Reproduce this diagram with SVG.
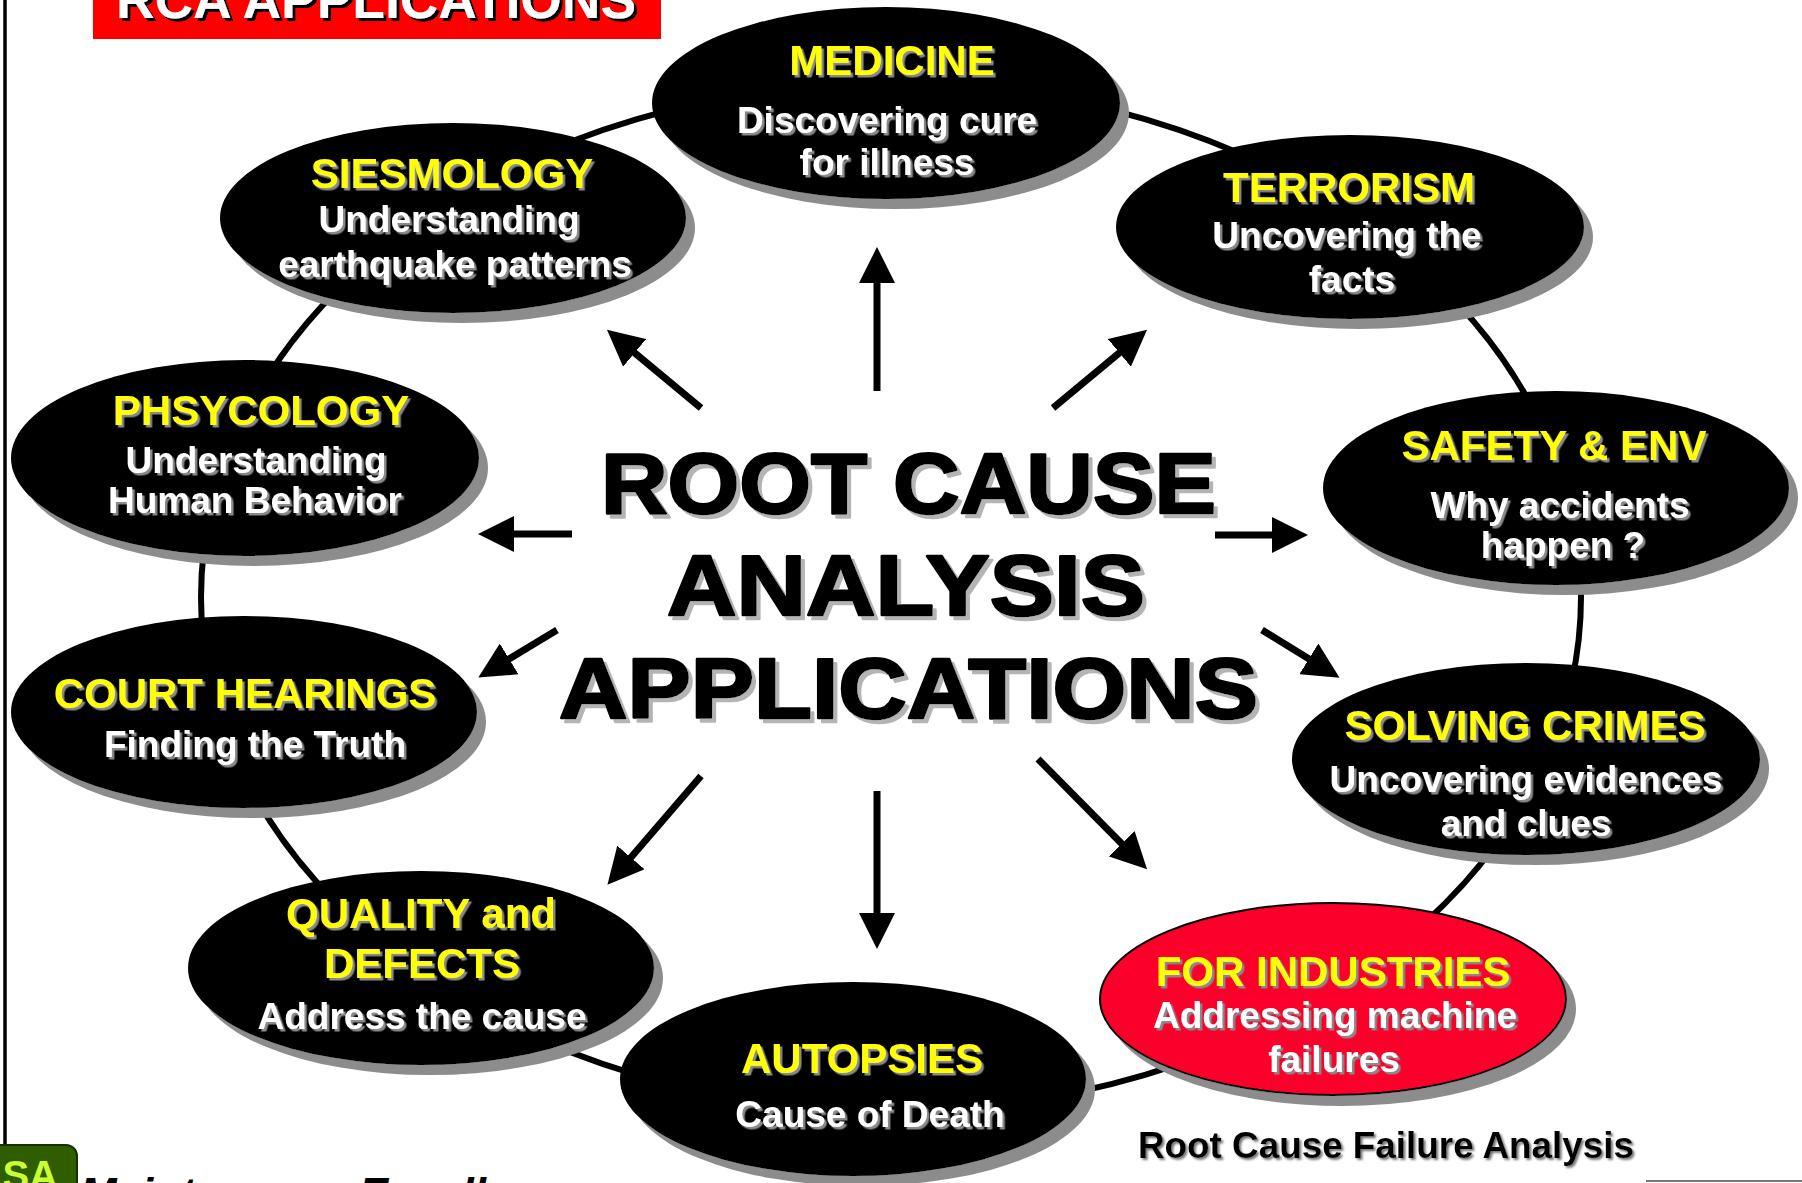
<svg xmlns="http://www.w3.org/2000/svg" width="1802" height="1183" viewBox="0 0 1802 1183">
<defs>
<style>
.t{font-family:"Liberation Sans",Arial,sans-serif;font-weight:bold;text-anchor:middle}
.h{font-size:42px;fill:#ffff00;filter:url(#ts)}
.s{font-size:37px;fill:#ffffff;filter:url(#ts)}
.el{fill:#000;filter:url(#es)}
.red{fill:#fa0029;stroke:#000;stroke-width:2;filter:url(#es)}
.ar{stroke:#000;stroke-width:7;fill:none;marker-end:url(#ah)}
.big{font-family:"Liberation Sans",Arial,sans-serif;font-weight:bold;font-size:86px;fill:#000;stroke:#000;stroke-width:2.5;stroke-linejoin:round;filter:url(#bs)}
</style>
<filter id="ts" x="-10%" y="-30%" width="120%" height="160%"><feDropShadow dx="2.5" dy="2.5" stdDeviation="0.4" flood-color="#8a8a8a" flood-opacity="1"/></filter>
<filter id="bs" x="-10%" y="-30%" width="120%" height="160%"><feDropShadow dx="4" dy="4" stdDeviation="0.6" flood-color="#b4b4b4" flood-opacity="1"/></filter>
<filter id="ws" x="-10%" y="-30%" width="120%" height="160%"><feDropShadow dx="3" dy="3" stdDeviation="0.3" flood-color="#000" flood-opacity="1"/></filter>
<filter id="ls" x="-10%" y="-30%" width="120%" height="160%"><feDropShadow dx="2" dy="2" stdDeviation="1.2" flood-color="#777" flood-opacity="1"/></filter>
<filter id="es" x="-10%" y="-10%" width="125%" height="130%"><feDropShadow dx="9" dy="10" stdDeviation="0" flood-color="#8c8c8c" flood-opacity="1"/></filter>
<marker id="ah" markerUnits="userSpaceOnUse" viewBox="0 0 36 36" markerWidth="36" markerHeight="36" refX="6" refY="18" orient="auto"><path d="M0,0 L36,18 L0,36 z" fill="#000"/></marker>
</defs>
<rect width="1802" height="1183" fill="#fff"/>
<line x1="5" y1="0" x2="5" y2="1145" stroke="#000" stroke-width="3.5"/>
<line x1="1646" y1="1181" x2="1802" y2="1181" stroke="#777" stroke-width="2"/>

<g id="ring">
<ellipse cx="891" cy="597" rx="690" ry="514" fill="none" stroke="#000" stroke-width="6"/>
</g>

<g id="title">
<rect x="93" y="0" width="568" height="39" fill="#ff0000"/>
<text x="376" y="18" font-family="Liberation Sans,Arial,sans-serif" font-weight="bold" font-size="53" fill="#fff" text-anchor="middle" textLength="520" lengthAdjust="spacingAndGlyphs" filter="url(#ws)">RCA APPLICATIONS</text>
</g>

<g id="medicine">
<ellipse class="el" cx="886" cy="103" rx="234" ry="96"/>
<text class="t h" x="892" y="75">MEDICINE</text>
<text class="t s" x="887" y="133">Discovering cure</text>
<text class="t s" x="887" y="175">for illness</text>
</g>
<g id="siesmology">
<ellipse class="el" cx="453" cy="218" rx="233" ry="95"/>
<text class="t h" x="452" y="188">SIESMOLOGY</text>
<text class="t s" x="449" y="232">Understanding</text>
<text class="t s" x="455" y="277">earthquake patterns</text>
</g>
<g id="terrorism">
<ellipse class="el" cx="1350" cy="227" rx="234" ry="92"/>
<text class="t h" x="1349" y="202">TERRORISM</text>
<text class="t s" x="1347" y="248">Uncovering the</text>
<text class="t s" x="1352" y="292">facts</text>
</g>
<g id="phsycology">
<ellipse class="el" cx="245" cy="458" rx="234" ry="98"/>
<text class="t h" x="261" y="425">PHSYCOLOGY</text>
<text class="t s" x="256" y="473">Understanding</text>
<text class="t s" x="255" y="513">Human Behavior</text>
</g>
<g id="safety">
<ellipse class="el" cx="1556" cy="488" rx="233" ry="97"/>
<text class="t h" x="1554" y="460">SAFETY &amp; ENV</text>
<text class="t s" x="1560" y="518">Why accidents</text>
<text class="t s" x="1563" y="558">happen ?</text>
</g>
<g id="court">
<ellipse class="el" cx="244" cy="712" rx="233" ry="96"/>
<text class="t h" x="245" y="708">COURT HEARINGS</text>
<text class="t s" x="255" y="757">Finding the Truth</text>
</g>
<g id="quality">
<ellipse class="el" cx="421" cy="968" rx="233" ry="97"/>
<text class="t h" x="421" y="928">QUALITY and</text>
<text class="t h" x="422" y="978">DEFECTS</text>
<text class="t s" x="422" y="1029">Address the cause</text>
</g>
<g id="autopsies">
<ellipse class="el" cx="853" cy="1079" rx="233" ry="97"/>
<text class="t h" x="862" y="1073">AUTOPSIES</text>
<text class="t s" x="870" y="1127">Cause of Death</text>
</g>
<g id="solving">
<ellipse class="el" cx="1526" cy="759" rx="234" ry="96"/>
<text class="t h" x="1525" y="740">SOLVING CRIMES</text>
<text class="t s" x="1526" y="792">Uncovering evidences</text>
<text class="t s" x="1526" y="836">and clues</text>
</g>
<g id="industries">
<ellipse class="red" cx="1333" cy="999" rx="233" ry="96"/>
<text class="t h" x="1333" y="986">FOR INDUSTRIES</text>
<text class="t s" x="1335" y="1028">Addressing machine</text>
<text class="t s" x="1334" y="1072">failures</text>
</g>

<g id="connectors">
<line class="ar" x1="877" y1="391" x2="877" y2="277"/>
<line class="ar" x1="701" y1="408" x2="630" y2="349"/>
<line class="ar" x1="1053" y1="408" x2="1124" y2="349"/>
<line class="ar" x1="572" y1="534" x2="508" y2="534"/>
<line class="ar" x1="1215" y1="535" x2="1278" y2="535"/>
<line class="ar" x1="557" y1="630" x2="504" y2="662"/>
<line class="ar" x1="1262" y1="630" x2="1314" y2="662"/>
<line class="ar" x1="701" y1="776" x2="627" y2="862"/>
<line class="ar" x1="877" y1="791" x2="877" y2="919"/>
<line class="ar" x1="1038" y1="759" x2="1126" y2="848"/>
</g>

<g id="center">
<text class="big" x="601" y="513" textLength="615" lengthAdjust="spacingAndGlyphs">ROOT CAUSE</text>
<text class="big" x="667" y="615" textLength="478" lengthAdjust="spacingAndGlyphs">ANALYSIS</text>
<text class="big" x="559" y="718" textLength="699" lengthAdjust="spacingAndGlyphs">APPLICATIONS</text>
</g>

<g id="footer">
<text x="1138" y="1158" font-family="Liberation Sans,Arial,sans-serif" font-weight="bold" font-size="36" fill="#000" textLength="496" lengthAdjust="spacingAndGlyphs" filter="url(#ls)">Root Cause Failure Analysis</text>
<rect x="-10" y="1145" width="87" height="60" rx="11" fill="#2e5e00" stroke="#173000" stroke-width="2"/>
<text x="58" y="1189" font-family="Liberation Sans,Arial,sans-serif" font-weight="bold" font-size="40" fill="#ccff33" text-anchor="end">SA</text>
<text x="80" y="1209" font-family="Liberation Sans,Arial,sans-serif" font-weight="bold" font-style="italic" font-size="44" fill="#000">Maintenance Excellence</text>
</g>
</svg>
